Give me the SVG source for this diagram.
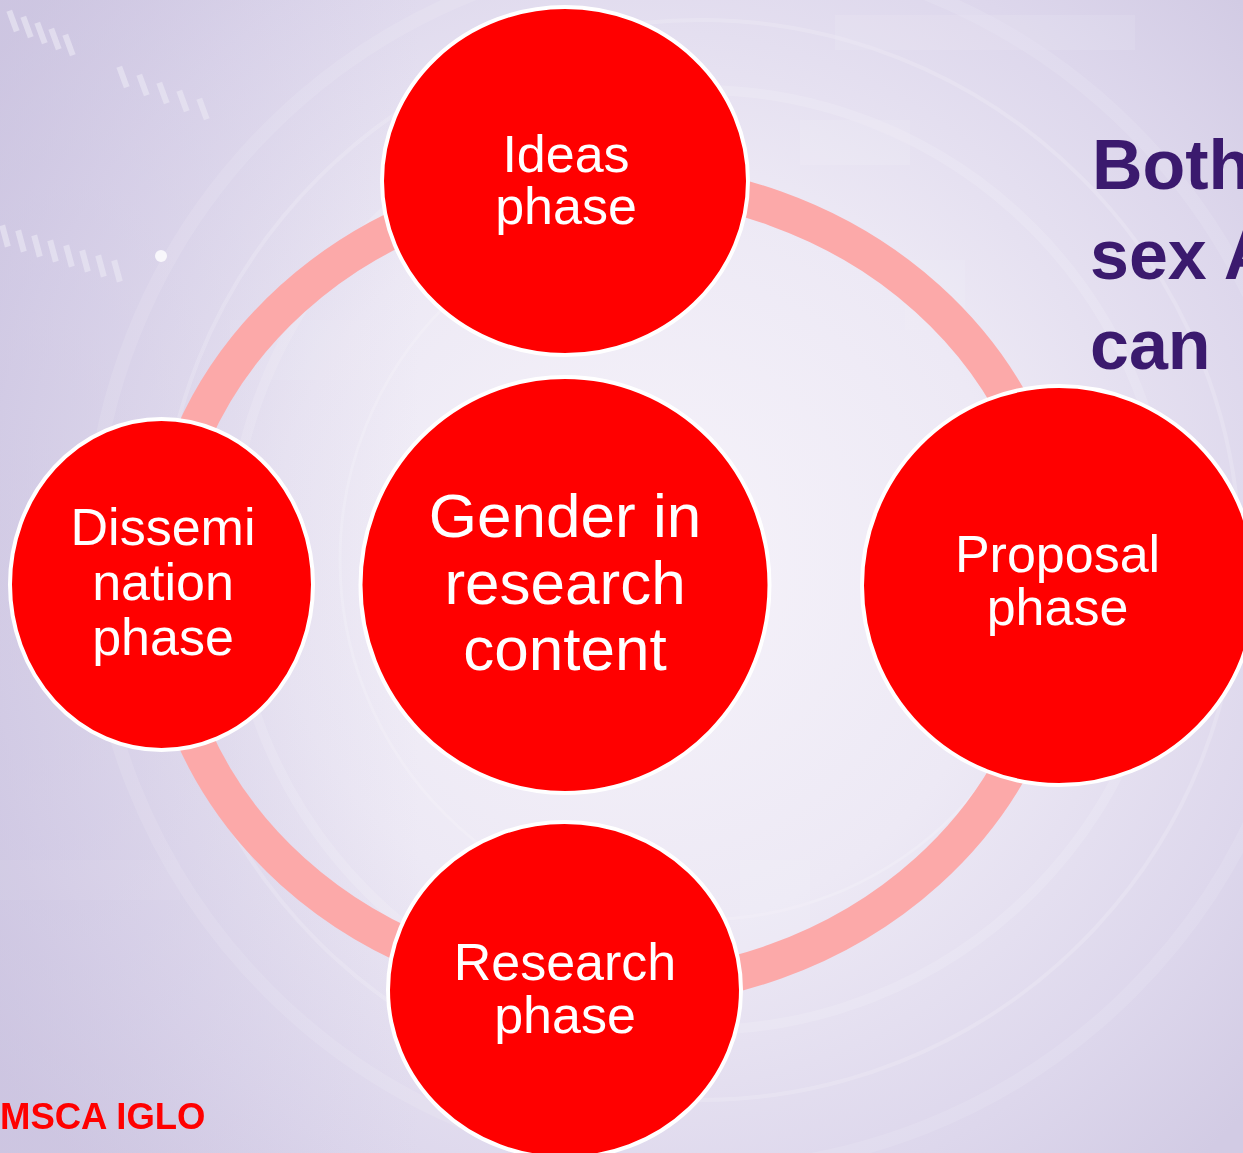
<svg xmlns="http://www.w3.org/2000/svg" width="1243" height="1153" viewBox="0 0 1243 1153">
  <defs>
    <radialGradient id="bgGlow" cx="640" cy="560" r="820" gradientUnits="userSpaceOnUse">
      <stop offset="0" stop-color="#F6F3FA"/>
      <stop offset="0.45" stop-color="#EDE9F5"/>
      <stop offset="0.8" stop-color="#DDD7EC"/>
      <stop offset="1" stop-color="#D2CBE4"/>
    </radialGradient>
    <linearGradient id="leftShade" x1="0" y1="0" x2="1" y2="0">
      <stop offset="0" stop-color="#C9C1DF" stop-opacity="0.55"/>
      <stop offset="1" stop-color="#C9C1DF" stop-opacity="0"/>
    </linearGradient>
    <style>
      .node { fill: #FF0000; stroke: #FFFFFF; stroke-width: 4; }
      .label { fill: #FFFFFF; font-family: "Liberation Sans", Arial, sans-serif; text-anchor: middle; }
      .arc { fill: none; stroke: #FFFFFF; }
      .tile { fill: #FFFFFF; }
    </style>
  </defs>

  <!-- backdrop -->
  <rect width="1243" height="1153" fill="url(#bgGlow)"/>
  <rect width="420" height="1153" fill="url(#leftShade)"/>

  <!-- faint techno texture -->
  <g opacity="0.28">
    <circle class="arc" cx="700" cy="560" r="470" stroke-width="10" opacity="0.5"/>
    <circle class="arc" cx="700" cy="560" r="540" stroke-width="4" opacity="0.6"/>
    <circle class="arc" cx="700" cy="560" r="610" stroke-width="14" opacity="0.4"/>
    <circle class="arc" cx="700" cy="560" r="360" stroke-width="3" opacity="0.6"/>
    <rect class="tile" x="835" y="15" width="300" height="35" opacity="0.35"/>
    <rect class="tile" x="800" y="120" width="110" height="45" opacity="0.4"/>
    <rect class="tile" x="905" y="260" width="60" height="70" opacity="0.3"/>
    <rect class="tile" x="740" y="860" width="70" height="90" opacity="0.35"/>
    <rect class="tile" x="230" y="320" width="140" height="60" opacity="0.25"/>
    <rect class="tile" x="0" y="860" width="180" height="40" opacity="0.2"/>
  </g>
  <g fill="#E9E5F3" opacity="0.7">
    <rect x="10" y="10" width="6" height="22" transform="rotate(-20 13 21)"/>
    <rect x="24" y="16" width="6" height="22" transform="rotate(-20 27 27)"/>
    <rect x="38" y="22" width="6" height="22" transform="rotate(-20 41 33)"/>
    <rect x="52" y="28" width="6" height="22" transform="rotate(-20 55 39)"/>
    <rect x="66" y="34" width="6" height="22" transform="rotate(-20 69 45)"/>
    <rect x="120" y="66" width="6" height="22" transform="rotate(-20 123 77)"/>
    <rect x="140" y="74" width="6" height="22" transform="rotate(-20 143 85)"/>
    <rect x="160" y="82" width="6" height="22" transform="rotate(-20 163 93)"/>
    <rect x="180" y="90" width="6" height="22" transform="rotate(-20 183 101)"/>
    <rect x="200" y="98" width="6" height="22" transform="rotate(-20 203 109)"/>
    <rect x="2" y="225" width="6" height="22" transform="rotate(-15 5 236)"/>
    <rect x="18" y="230" width="6" height="22" transform="rotate(-15 21 241)"/>
    <rect x="34" y="235" width="6" height="22" transform="rotate(-15 37 246)"/>
    <rect x="50" y="240" width="6" height="22" transform="rotate(-15 53 251)"/>
    <rect x="66" y="245" width="6" height="22" transform="rotate(-15 69 256)"/>
    <rect x="82" y="250" width="6" height="22" transform="rotate(-15 85 261)"/>
    <rect x="98" y="255" width="6" height="22" transform="rotate(-15 101 266)"/>
    <rect x="114" y="260" width="6" height="22" transform="rotate(-15 117 271)"/>
  </g>
  <circle cx="161" cy="256" r="6" fill="#FFFFFF" opacity="0.8"/>

  <!-- connectors: the cycle ring -->
  <g id="connectors">
    <ellipse cx="610" cy="585" rx="449" ry="405" fill="none" stroke="#FCA9A9" stroke-width="36"/>
  </g>

  <!-- nodes -->
  <g id="node-ideas">
    <ellipse class="node" cx="565" cy="181" rx="183" ry="174"/>
    <text class="label" x="566" y="172" font-size="52">Ideas</text>
    <text class="label" x="566" y="224" font-size="52">phase</text>
  </g>

  <g id="node-proposal">
    <ellipse class="node" cx="1059" cy="585.5" rx="197" ry="199.5"/>
    <text class="label" x="1057.5" y="572" font-size="52">Proposal</text>
    <text class="label" x="1057.5" y="625" font-size="52">phase</text>
  </g>

  <g id="node-research">
    <ellipse class="node" cx="564.5" cy="990" rx="176.5" ry="168"/>
    <text class="label" x="565" y="980" font-size="52">Research</text>
    <text class="label" x="565" y="1033" font-size="52">phase</text>
  </g>

  <g id="node-dissemination">
    <ellipse class="node" cx="161.5" cy="584.5" rx="151.5" ry="165.5"/>
    <text class="label" x="163" y="545" font-size="52">Dissemi</text>
    <text class="label" x="163" y="600" font-size="52">nation</text>
    <text class="label" x="163" y="655" font-size="52">phase</text>
  </g>

  <g id="node-gender">
    <ellipse class="node" cx="565" cy="585" rx="204.5" ry="208"/>
    <text class="label" x="565" y="537" font-size="62">Gender in</text>
    <text class="label" x="565" y="604" font-size="62">research</text>
    <text class="label" x="565" y="670" font-size="62">content</text>
  </g>

  <!-- side heading, running off the right edge -->
  <g id="heading" fill="#3B1A6E" font-family="Liberation Sans, Arial, sans-serif" font-weight="bold" font-size="70">
    <text x="1092" y="189">Both</text>
    <text x="1090" y="279">sex A</text>
    <text x="1090" y="369">can</text>
  </g>

  <!-- footer tag -->
  <text x="0" y="1129" fill="#FF0000" font-family="Liberation Sans, Arial, sans-serif" font-weight="bold" font-size="36.5">MSCA IGLO</text>
</svg>
